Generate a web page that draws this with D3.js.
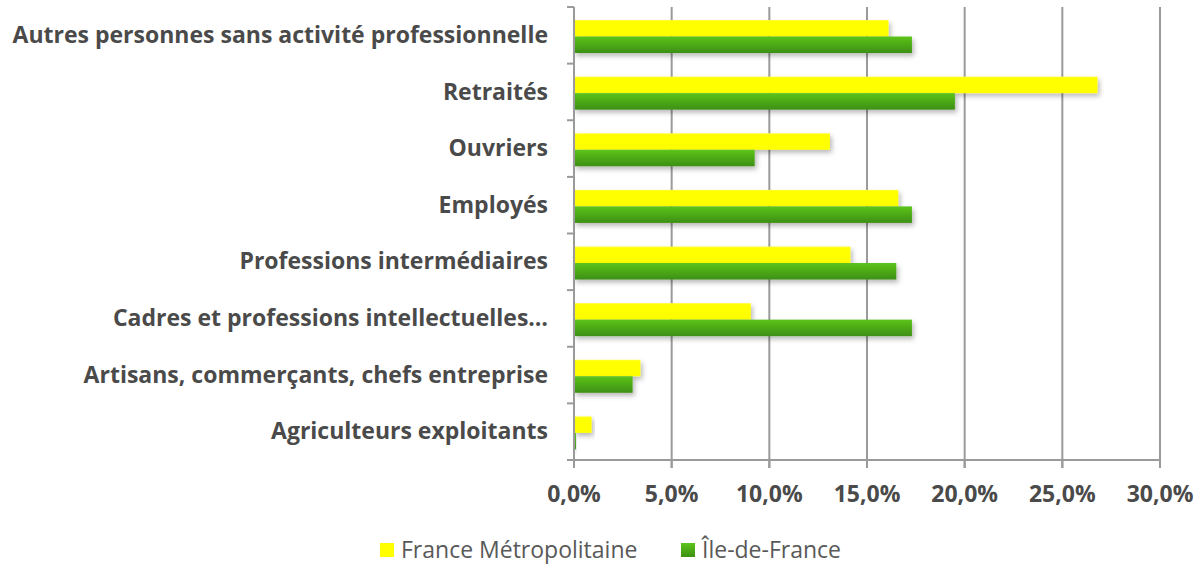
<!DOCTYPE html>
<html><head><meta charset="utf-8">
<script src="https://cdn.jsdelivr.net/npm/d3@7"></script>
<style>body{margin:0;background:#fff}svg{display:block}</style>
</head><body>
<script>
const categories = ["Autres personnes sans activité professionnelle","Retraités","Ouvriers","Employés","Professions intermédiaires","Cadres et professions intellectuelles…","Artisans, commerçants, chefs entreprise","Agriculteurs exploitants"];
const seriesNames = ["France Métropolitaine","Île-de-France"];
const franceValues = [16.1, 26.8, 13.1, 16.6, 14.15, 9.05, 3.4, 0.9];
const idfValues = [17.3, 19.5, 9.25, 17.3, 16.5, 17.3, 3.0, 0.1];
const xTicks = [0,5,10,15,20,25,30];

const W=1201,H=569;
const svg=d3.select("body").append("svg").attr("width",W).attr("height",H);
const defs=svg.append("defs");
const g1=defs.append("linearGradient").attr("id","gGreen").attr("x1",0).attr("y1",0).attr("x2",0).attr("y2",1);
g1.append("stop").attr("offset","0%").attr("stop-color","#5cc41b");
g1.append("stop").attr("offset","100%").attr("stop-color","#3d8f12");
const g2=defs.append("linearGradient").attr("id","gYellow").attr("x1",0).attr("y1",0).attr("x2",0).attr("y2",1);
g2.append("stop").attr("offset","0%").attr("stop-color","#ffff40");
g2.append("stop").attr("offset","10%").attr("stop-color","#ffff00");
g2.append("stop").attr("offset","100%").attr("stop-color","#ffff00");
const f=defs.append("filter").attr("id","shadow").attr("x","-5%").attr("y","-30%").attr("width","120%").attr("height","180%");
f.append("feDropShadow").attr("dx",2).attr("dy",3).attr("stdDeviation",2.5).attr("flood-color","#000").attr("flood-opacity",0.28);

const x=d3.scaleLinear().domain([0,30]).range([574,1160]);
const y=d3.scaleBand().domain(categories).range([7,460]).paddingInner(0).paddingOuter(0);
const bh=16.5;
const labelColor="#4a4a4a";

// gridlines
svg.append("g").selectAll("line").data(xTicks.slice(1)).join("line")
  .attr("x1",d=>x(d)).attr("x2",d=>x(d)).attr("y1",7).attr("y2",468)
  .attr("stroke","#9a9a9a").attr("stroke-width",2);

// bars
const gb=svg.append("g");
categories.forEach((c,i)=>{
  const y0=y(c)+y.bandwidth()/2-bh+1.2;
  gb.append("rect").attr("x",x(0)).attr("y",y0).attr("width",x(franceValues[i])-x(0)).attr("height",bh)
    .attr("fill","url(#gYellow)").attr("filter","url(#shadow)");
  gb.append("rect").attr("x",x(0)).attr("y",y0+bh).attr("width",Math.max(1.5,x(idfValues[i])-x(0))).attr("height",bh)
    .attr("fill","url(#gGreen)").attr("filter","url(#shadow)");
});

// y axis
const ya=svg.append("g");
ya.append("line").attr("x1",574).attr("x2",574).attr("y1",7).attr("y2",468).attr("stroke","#9a9a9a").attr("stroke-width",2);
const yTickPos=d3.range(categories.length+1).map(i=>7+i*y.step());
ya.selectAll("line.t").data(yTickPos).join("line").attr("class","t")
  .attr("x1",567).attr("x2",574).attr("y1",d=>d).attr("y2",d=>d).attr("stroke","#9a9a9a").attr("stroke-width",2);
ya.selectAll("text").data(categories).join("text")
  .attr("x",548).attr("y",d=>y(d)+y.bandwidth()/2+1.5)
  .attr("text-anchor","end").attr("dominant-baseline","middle")
  .attr("font-family","'Open Sans',sans-serif").attr("font-weight","bold").attr("font-size",23)
  .attr("fill",labelColor).text(d=>d);

// x axis
const xa=svg.append("g");
xa.append("line").attr("x1",567).attr("x2",1161).attr("y1",460).attr("y2",460).attr("stroke","#9a9a9a").attr("stroke-width",2);
xa.selectAll("line.t").data(xTicks).join("line").attr("class","t")
  .attr("x1",d=>x(d)).attr("x2",d=>x(d)).attr("y1",460).attr("y2",468).attr("stroke","#9a9a9a").attr("stroke-width",2);
xa.selectAll("text").data(xTicks).join("text")
  .attr("x",d=>x(d)).attr("y",502).attr("text-anchor","middle")
  .attr("font-family","'Open Sans',sans-serif").attr("font-weight","bold").attr("font-size",23)
  .attr("fill",labelColor).text(d=>d.toFixed(1).replace(".",",")+"%");

// legend
const leg=svg.append("g");
const legX=[380,681];
seriesNames.forEach((s,i)=>{
  leg.append("rect").attr("x",legX[i]).attr("y",543).attr("width",14).attr("height",14)
    .attr("fill",i===0?"#ffff00":"url(#gGreen)");
  leg.append("text").attr("x",legX[i]+21).attr("y",558).attr("font-family","'Open Sans',sans-serif")
    .attr("font-size",23).attr("fill","#595959").text(s);
});
</script>
</body></html>
